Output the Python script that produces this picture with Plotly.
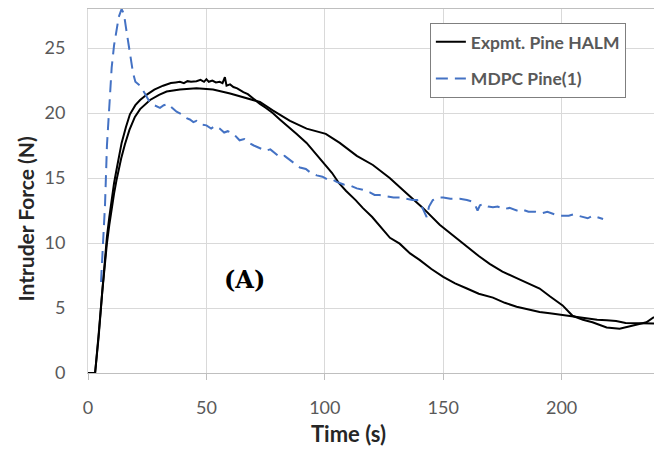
import plotly.graph_objects as go

# Experimental curve, run A (higher noisy peak, steeper descent)
time_a = [0, 3, 4.5, 6, 7, 8, 9, 10, 11, 12, 13, 14.2, 16, 17.7, 20, 22, 24.7, 28, 31.7, 35,
          37, 38.8, 40.5, 42, 43.5, 45.8, 47.5, 49, 50, 51, 52.5, 54, 55.6, 56.8, 57.8, 58.5,
          60, 61.4, 63, 65.6, 67.5, 69.8, 72.6, 75, 78, 81, 85, 88, 92.3, 96, 100.4, 103, 106,
          109, 113, 116, 120, 124, 127.5, 131.6, 136, 140, 145, 150, 155, 160, 165, 171, 176,
          181, 186, 190.7, 195, 200.4, 205, 210.5, 215, 219, 223, 227, 231, 235, 239]
force_a = [0, 0, 3, 6.5, 8.8, 10.5, 12, 13.4, 14.6, 15.6, 16.6, 17.7, 18.9, 19.9, 20.6, 21.0,
           21.4, 21.8, 22.1, 22.3, 22.35, 22.4, 22.3, 22.45, 22.4, 22.45, 22.55, 22.4, 22.6,
           22.4, 22.5, 22.35, 22.4, 22.3, 22.75, 22.1, 22.2, 22.0, 21.9, 21.6, 21.45, 21.1,
           20.7, 20.4, 20.0, 19.5, 18.9, 18.4, 17.7, 16.9, 16.0, 15.4, 14.6, 14.0, 13.3, 12.7,
           12.0, 11.1, 10.4, 9.95, 9.2, 8.7, 8.0, 7.4, 6.9, 6.5, 6.1, 5.8, 5.4, 5.1, 4.9, 4.7,
           4.6, 4.45, 4.35, 4.2, 4.1, 4.05, 4.0, 3.85, 3.85, 3.8, 3.8]

# Experimental curve, run B (smoother, lower peak, slower descent)
time_b = [3, 4.5, 6, 7, 8, 9, 10, 11, 12, 13, 14, 15.6, 17.5, 19.8, 22, 26.2, 30, 33.2, 38.8,
          45.8, 52.8, 60, 67, 72.6, 78, 85.3, 92.3, 100.4, 106.3, 113.5, 120.3, 127.4, 134.6,
          141.4, 148.5, 154, 160, 165, 169.6, 175, 181, 186, 190.7, 195, 200.4, 204.6, 209,
          213, 219, 224.5, 230, 235.8, 239]
force_b = [0, 2.8, 6.2, 8.3, 10, 11.4, 12.7, 13.8, 14.8, 15.7, 16.5, 17.6, 18.7, 19.7, 20.3,
           21.0, 21.4, 21.65, 21.8, 21.9, 21.8, 21.5, 21.15, 20.85, 20.2, 19.4, 18.8, 18.4,
           17.7, 16.7, 16.0, 15.0, 13.8, 12.7, 11.4, 10.6, 9.7, 9.0, 8.4, 7.8, 7.3, 6.9, 6.5,
           5.9, 5.2, 4.4, 4.1, 3.9, 3.5, 3.4, 3.65, 3.9, 4.3]

# MDPC simulation
time_sim = [5.5, 6.5, 7.2, 8, 9, 10, 11, 12, 13, 14.2, 15.2, 16, 17, 18, 19, 20, 22, 24, 26.2,
            28, 30.4, 32, 33.8, 35.5, 37.4, 39.5, 41.6, 43, 44.5, 45.8, 48, 50, 52, 53.5, 55.6,
            57.5, 59, 61.4, 64, 66, 68, 70, 72.6, 75, 77, 79, 81, 83, 85, 87, 89.5, 92, 94,
            96.6, 99, 101, 103, 105, 108, 111, 113.5, 116, 119, 121, 123, 126, 129, 132, 134.6,
            137, 139, 140.5, 142, 143, 144, 145.6, 148, 150, 153, 157, 160, 162, 163.5, 164.5,
            165.5, 167, 169, 171, 173, 175.5, 178, 181, 183, 186, 189, 192, 194, 197, 200, 203,
            205, 208.4, 211, 213, 215, 217.5]
force_sim = [7.0, 10.0, 13.0, 17.5, 21.0, 23.5, 25.2, 26.5, 27.4, 28.0, 27.6, 26.6, 25.4, 24.2,
             23.1, 22.4, 22.1, 21.5, 20.8, 20.6, 20.4, 20.6, 20.7, 20.4, 20.1, 19.9, 19.6, 19.5,
             19.3, 19.4, 19.1, 19.05, 18.8, 19.0, 18.8, 18.5, 18.6, 18.4, 17.9, 18.0, 17.7,
             17.5, 17.3, 17.1, 17.2, 16.9, 16.6, 16.7, 16.4, 16.1, 15.8, 15.7, 15.4, 15.2, 15.1,
             14.9, 14.9, 14.7, 14.5, 14.4, 14.2, 14.1, 13.9, 13.7, 13.7, 13.6, 13.5, 13.5, 13.4,
             13.3, 13.3, 13.0, 12.4, 12.0, 12.8, 13.3, 13.5, 13.5, 13.4, 13.4, 13.3, 13.2, 12.9,
             12.5, 12.9, 13.0, 12.8, 12.75, 12.8, 12.6, 12.7, 12.5, 12.6, 12.4, 12.4, 12.3,
             12.4, 12.2, 12.1, 12.1, 12.2, 12.0, 11.9, 12.1, 12.0, 11.85]

x_ticks = [0, 50, 100, 150, 200]
y_ticks = [0, 5, 10, 15, 20, 25]

fig = go.Figure()
fig.add_trace(go.Scatter(x=time_a, y=force_a, mode="lines", name="Expmt. Pine HALM",
                         legendgroup="exp", line=dict(color="black", width=2)))
fig.add_trace(go.Scatter(x=time_b, y=force_b, mode="lines", name="Expmt. Pine HALM",
                         legendgroup="exp", showlegend=False,
                         line=dict(color="black", width=2)))
fig.add_trace(go.Scatter(x=time_sim, y=force_sim, mode="lines", name="MDPC Pine(1)",
                         legendgroup="sim",
                         line=dict(color="#4472C4", width=2, dash="12px,7px")))

fig.update_layout(
    width=654, height=449,
    margin=dict(l=88, r=0, t=9, b=76),
    paper_bgcolor="white", plot_bgcolor="white",
    font=dict(family="Lato", color="#595959"),
    showlegend=True,
    legend=dict(x=0.604, y=0.962, xanchor="left", yanchor="top",
                bgcolor="white", bordercolor="#7F7F7F", borderwidth=1,
                font=dict(family="Lato", size=17.5, color="#595959", weight="bold"),
                tracegroupgap=11, traceorder="grouped"),
    xaxis=dict(range=[0, 239], tickvals=x_ticks, showgrid=True, gridcolor="#D9D9D9",
               showline=True, linecolor="#BFBFBF", mirror=True, zeroline=False,
               ticks="outside", ticklen=6, tickcolor="#BFBFBF",
               tickfont=dict(family="Lato", size=18, color="#595959"),
               ticklabelstandoff=12),
    yaxis=dict(range=[0, 28], tickvals=y_ticks, showgrid=True, gridcolor="#D9D9D9",
               showline=True, linecolor="#D9D9D9", zeroline=False,
               ticks="", tickfont=dict(family="Lato", size=18, color="#595959"),
               ticklabelstandoff=18),
    annotations=[
        dict(text="Time (s)", xref="paper", yref="paper", x=0.461, y=-0.165,
             xanchor="center", yanchor="middle", showarrow=False,
             font=dict(family="Lato", size=22, color="#262626", weight="bold")),
        dict(text="Intruder Force (N)", xref="paper", yref="paper", x=-0.111, y=0.422,
             xanchor="center", yanchor="middle", showarrow=False, textangle=-90,
             font=dict(family="Lato", size=21, color="#262626", weight="bold")),
        dict(text="(A)", xref="x", yref="y", x=66, y=7.2, xanchor="center",
             yanchor="middle", showarrow=False,
             font=dict(family="DejaVu Serif", size=24, color="black", weight="bold")),
    ],
)

fig.write_html("out.html")
